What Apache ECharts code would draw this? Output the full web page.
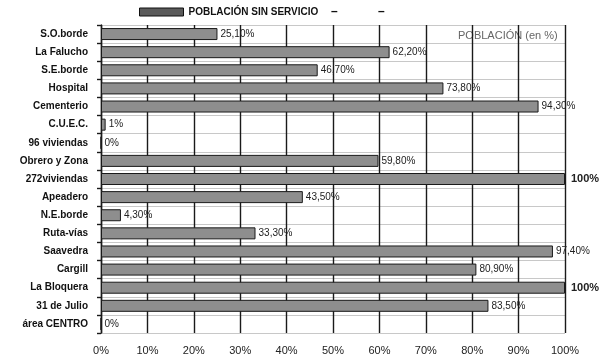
<!DOCTYPE html>
<html><head><meta charset="utf-8">
<script src="https://cdn.jsdelivr.net/npm/echarts@6/dist/echarts.min.js"></script>
<style>html,body{margin:0;padding:0;background:#fff}#c{width:602px;height:361px}</style>
</head><body><div id="c"></div>
<script>
const categories = ["S.O.borde","La Falucho","S.E.borde","Hospital","Cementerio","C.U.E.C.","96 viviendas","Obrero y Zona","272viviendas","Apeadero","N.E.borde","Ruta-vías","Saavedra","Cargill","La Bloquera","31 de Julio","área CENTRO"];
const values = [25.1,62.2,46.7,73.8,94.3,1,0,59.8,100,43.5,4.3,33.3,97.4,80.9,100,83.5,0];
const valueLabels = ["25,10%","62,20%","46,70%","73,80%","94,30%","1%","0%","59,80%","100%","43,50%","4,30%","33,30%","97,40%","80,90%","100%","83,50%","0%"];
const xTicks = ["0%","10%","20%","30%","40%","50%","60%","70%","80%","90%","100%"];
const seriesName = "POBLACIÓN SIN SERVICIO";
const axisTitle = "POBLACIÓN (en %)";

const chart = echarts.init(document.getElementById('c'), null, {renderer:'canvas'});
const data = values.map((v,i)=>({
  value: v,
  label: {
    formatter: valueLabels[i],
    fontWeight: v >= 100 ? 'bold' : 'normal',
    fontSize: v >= 100 ? 11 : 10,
    distance: v >= 100 ? 6 : 3
  }
}));
chart.setOption({
  animation:false,
  textStyle:{fontFamily:'Liberation Sans, Arial, sans-serif'},
  grid:{left:101,right:37,top:25,bottom:28,containLabel:false},
  legend:{
    top:2,left:134,itemWidth:44,itemHeight:8,itemGap:6,
    textStyle:{fontSize:10,fontWeight:'bold',color:'#111'},
    itemStyle:{color:'#5a5a5a',borderColor:'#111',borderWidth:1},
    data:[{name:seriesName,icon:'rect'}]
  },
  graphic:[
    {type:'text',left:331,top:6,style:{text:'–',font:'bold 12px Liberation Sans',fill:'#111'}},
    {type:'text',left:378,top:6,style:{text:'–',font:'bold 12px Liberation Sans',fill:'#111'}},
    {type:'text',left:458,top:30,style:{text:axisTitle,font:'11px Liberation Sans',fill:'#666'}}
  ],
  xAxis:{
    type:'value',min:0,max:100,interval:10,
    axisLine:{show:false},
    axisTick:{show:false},
    axisLabel:{formatter:(v)=>xTicks[Math.round(v/10)],fontSize:11,color:'#222',margin:12},
    splitLine:{show:true,lineStyle:{color:'#1a1a1a',width:1.4}}
  },
  yAxis:{
    type:'category',data:categories,inverse:true,
    axisLine:{show:true,lineStyle:{color:'#1a1a1a',width:1.4}},
    axisTick:{show:true,length:4,lineStyle:{color:'#1a1a1a',width:1.4}},
    axisLabel:{fontSize:10,fontWeight:'bold',color:'#111',margin:13},
    splitLine:{show:true,lineStyle:{color:'#c8c8c8',width:1}}
  },
  series:[{
    name:seriesName,type:'bar',data:data,barWidth:12,
    itemStyle:{color:'#8e8e8e',borderColor:'#1a1a1a',borderWidth:1},
    label:{show:true,position:'right',color:'#222',fontSize:10}
  }]
});
</script></body></html>
